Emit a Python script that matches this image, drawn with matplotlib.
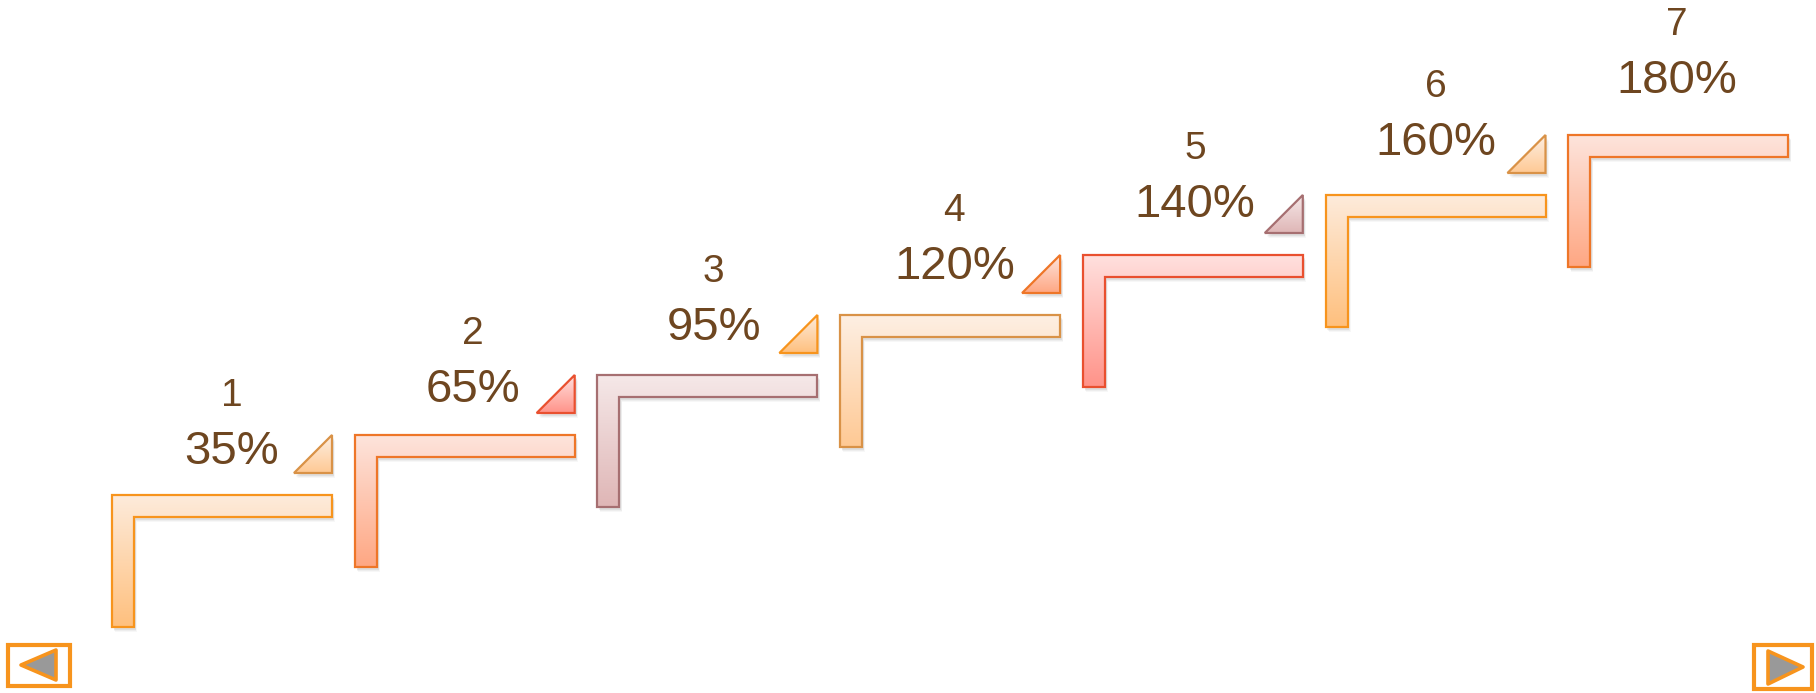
import matplotlib
matplotlib.use("Agg")
import matplotlib.pyplot as plt
import numpy as np
from matplotlib.patches import Polygon, Rectangle
from matplotlib.colors import to_rgb

# ---- data ----
steps = ["1", "2", "3", "4", "5", "6", "7"]
values = [35, 65, 95, 120, 140, 160, 180]
step_schemes = ["orange", "orangered", "mauve", "tan", "red", "orange", "orangered"]
tri_schemes = ["tan", "red", "orange", "orangered", "mauve", "tan"]

# colour schemes: (edge, top fill, bottom fill)
schemes = {
    "orange":    ("#F7941D", "#FDEBDB", "#FFC07E"),
    "orangered": ("#EE7628", "#FDE4DC", "#FFA783"),
    "mauve":     ("#A66F71", "#F5E8E8", "#DFB6B6"),
    "tan":       ("#D99247", "#FDEFE3", "#FFC994"),
    "red":       ("#E9502F", "#FFE0DE", "#FF9389"),
}
text_color = "#6E4620"

W, H = 1816, 693
fig = plt.figure(figsize=(W / 100, H / 100), dpi=100)
ax = fig.add_axes([0, 0, 1, 1])
ax.set_xlim(0, W)
ax.set_ylim(H, 0)
ax.axis("off")

def grad_poly(verts, scheme, z):
    edge, ctop, cbot = schemes[scheme]
    verts = np.asarray(verts, float)
    # soft shadow
    for k, a in zip([5, 4, 3], [0.06, 0.08, 0.12]):
        sh = Polygon(verts + [k * 0.6, k], closed=True, fc="#808080", ec="none",
                     alpha=a, zorder=z - 0.5)
        ax.add_patch(sh)
    poly = Polygon(verts, closed=True, fc="none", ec="none", zorder=z)
    ax.add_patch(poly)
    x0, x1 = verts[:, 0].min(), verts[:, 0].max()
    y0, y1 = verts[:, 1].min(), verts[:, 1].max()
    t = np.linspace(0, 1, 128)[:, None, None]
    g = (1 - t) * np.array(to_rgb(ctop)) + t * np.array(to_rgb(cbot))
    g = np.repeat(g, 2, axis=1)
    im = ax.imshow(g, extent=(x0, x1, y1, y0), origin="upper", aspect="auto",
                   zorder=z, interpolation="bilinear")
    im.set_clip_path(poly)
    ax.add_patch(Polygon(verts, closed=True, fc="none", ec=edge, lw=1.6,
                         joinstyle="miter", zorder=z + 0.1))

Lw, Lh, th = 220, 132, 22
dx, dy = 242.7, -60
x_start, y_start = 112, 495
tri = 38

for i, (s, v) in enumerate(zip(steps, values)):
    x0 = x_start + i * dx
    y0 = y_start + i * dy
    verts = [(x0, y0), (x0 + Lw, y0), (x0 + Lw, y0 + th), (x0 + th, y0 + th),
             (x0 + th, y0 + Lh), (x0, y0 + Lh)]
    grad_poly(verts, step_schemes[i], 3)
    if i < len(tri_schemes):
        r = x0 + Lw
        top = y0 + dy
        tverts = [(r - tri, top + tri), (r, top + tri), (r, top)]
        grad_poly(tverts, tri_schemes[i], 3)
    tx = 232 + i * 240.8
    ty = 452 - i * 61.8
    ax.text(tx, ty, f"{v}%", ha="center", va="center", fontsize=34,
            family="Liberation Sans", color=text_color, zorder=6)
    ax.text(tx, ty - 56, s, ha="center", va="center", fontsize=28,
            family="Liberation Sans", color=text_color, zorder=6)

# navigation buttons
nav = "#F7941D"
ax.add_patch(Rectangle((8, 645), 62, 41, fc="white", ec=nav, lw=3, zorder=5))
ax.add_patch(Polygon([(21, 665), (56, 650), (56, 680)], closed=True, fc="#999999",
                     ec=nav, lw=2.6, joinstyle="round", zorder=6))
ax.add_patch(Rectangle((1754, 645), 58, 44, fc="white", ec=nav, lw=3, zorder=5))
ax.add_patch(Polygon([(1768, 651), (1768, 684), (1803, 667)], closed=True, fc="#999999",
                     ec=nav, lw=2.6, joinstyle="round", zorder=6))

fig.savefig("out.png", dpi=100)
